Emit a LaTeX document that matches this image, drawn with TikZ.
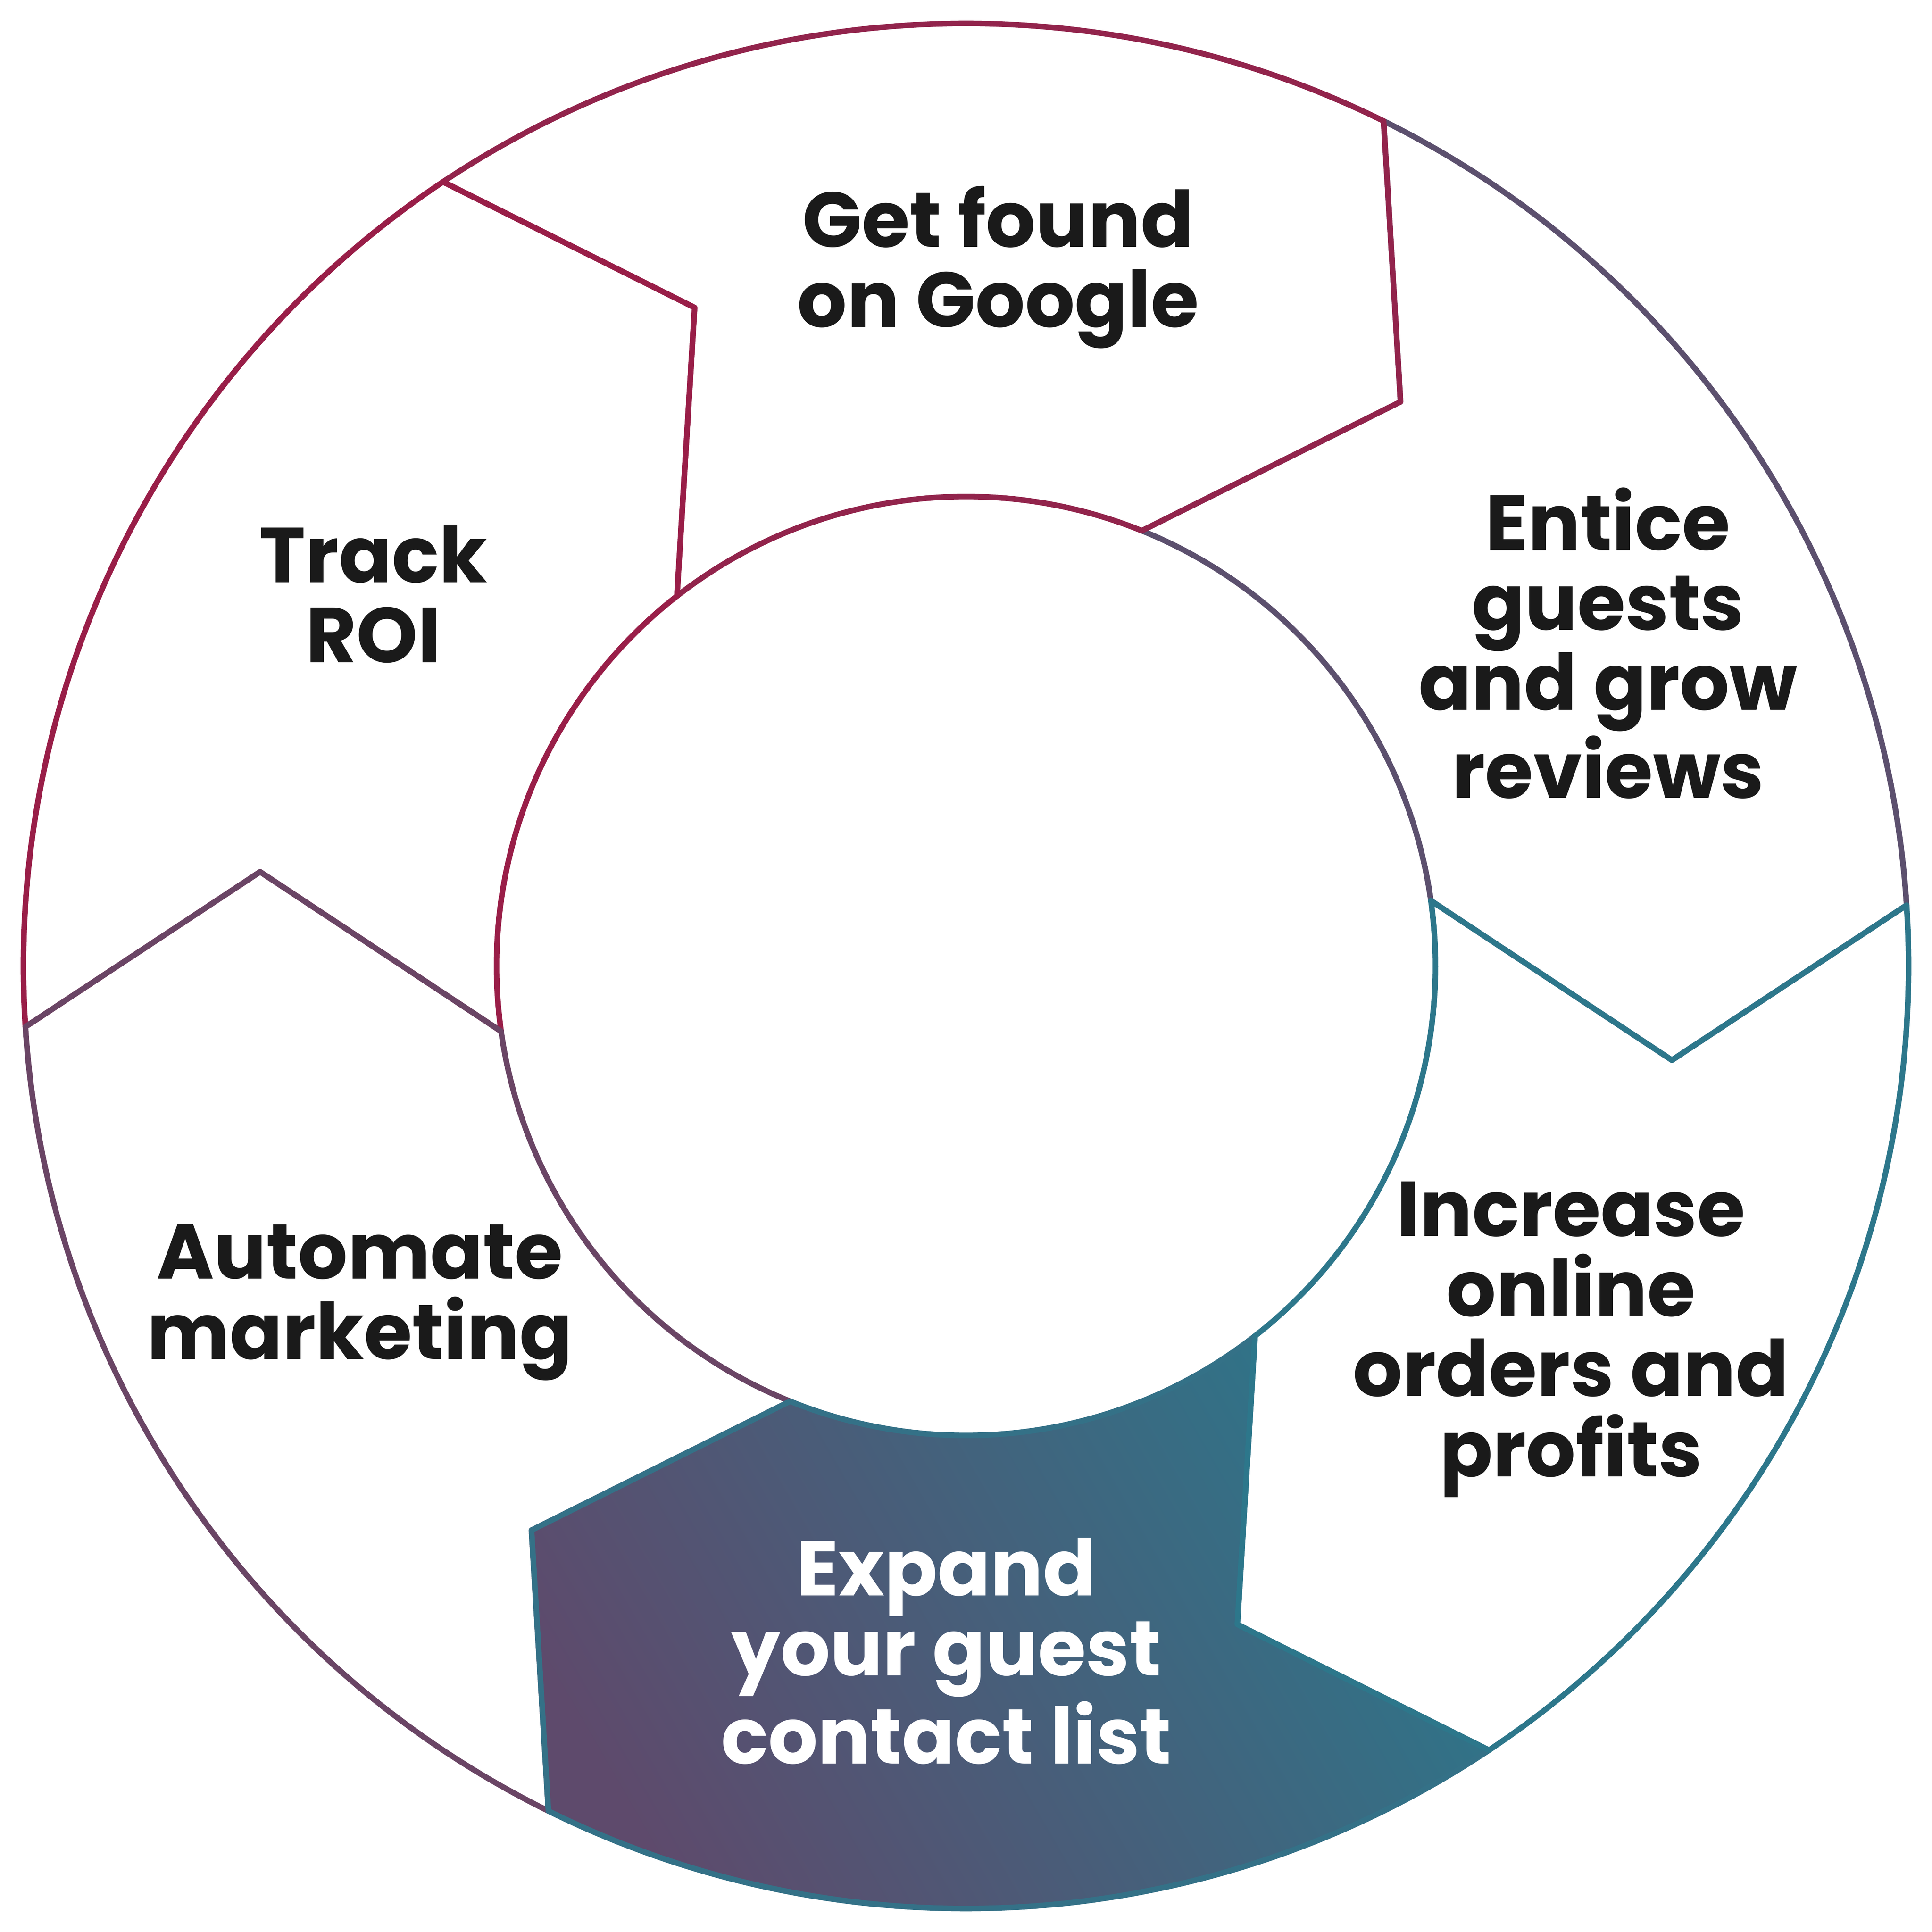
\documentclass[tikz,border=0pt]{standalone}
\usepackage{fontspec}
\setmainfont{Poppins}
\definecolor{ringred}{HTML}{9E1A45}
\definecolor{ringteal}{HTML}{287B8E}
\definecolor{fillpurple}{HTML}{5E4A6C}
\definecolor{fillteal}{HTML}{2E7589}
\definecolor{labelink}{HTML}{1A1A1A}
\tikzstyle{step label}=[align=center,font=\fontsize{18}{18.5}\selectfont\bfseries,text=labelink,inner sep=0pt]
\tikzstyle{selected label}=[step label,text=white]
\newcommand\segpath[1]{({#1}:3.81) -- ({#1-15.6}:5.78) -- ({#1-4.3}:7.65)
  arc[start angle={#1-4.3},end angle={#1+55.7},radius=7.65]
  -- ({#1+44.4}:5.78) -- ({#1+60}:3.81)
  arc[start angle={#1+60},end angle={#1},radius=3.81] -- cycle}
\begin{document}
\begin{tikzpicture}
    \useasboundingbox (-7.84,-7.84) rectangle (7.84,7.84);
    % highlighted step
    \shade[left color=fillpurple,right color=fillteal,shading angle=120] \segpath{248};
    \foreach \a in {8,68,...,308} {
        \pgfmathsetmacro\t{(1-cos(\a+30-135))*50}
        \draw[ringteal!\t!ringred,line width=1.3pt,line join=round] \segpath{\a};
    }
    \foreach \pos/\name/\txt in {{(0.26,5.67)/found/Get found\\on Google},
                                 {(5.21,2.62)/entice/Entice\\guests\\and grow\\reviews},
                                 {(4.91,-3.03)/orders/Increase\\online\\orders and\\profits},
                                 {(-4.92,-2.73)/automate/Automate\\marketing},
                                 {(-4.81,3.02)/roi/Track\\ROI}}
        \node[step label] (\name) at \pos {\txt};
    \node[selected label] (expand) at (-0.16,-5.56) {Expand\\your guest\\contact list};
\end{tikzpicture}
\end{document}
